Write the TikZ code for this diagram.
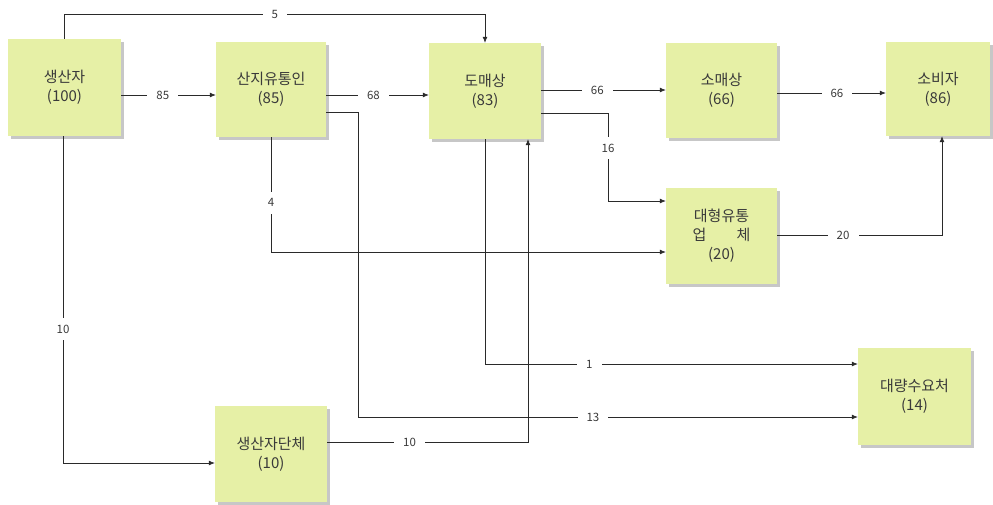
\documentclass[tikz,border=0pt]{standalone}
\usepackage{fontspec}
\setmainfont{Noto Sans CJK KR}
\usetikzlibrary{arrows.meta,shadows}
\definecolor{boxfill}{HTML}{E6F0A6}
\definecolor{txt}{HTML}{3A3A3A}
\definecolor{ln}{HTML}{2A2A2A}
\tikzset{
  flowbox/.style={fill=boxfill, draw=none, align=center, text=txt,
    font=\fontsize{15}{19}\selectfont, inner sep=0pt,
    drop shadow={shadow xshift=2.5pt, shadow yshift=-2.5pt, fill=black!40, opacity=0.55}},
  conn/.style={draw=ln, line width=0.7pt, -{Latex[length=6pt,width=5pt]}},
  lbl/.style={fill=white, text=txt, font=\fontsize{11.5}{13}\selectfont, inner xsep=9pt, inner ysep=2pt},
  vlbl/.style={fill=white, text=txt, font=\fontsize{11.5}{13}\selectfont, inner xsep=2pt, inner ysep=7pt}
}
\begin{document}
\begin{tikzpicture}[x=1pt,y=-1pt]
\useasboundingbox (0,0) rectangle (993,504);
% boxes
\node[flowbox, minimum width=113pt, minimum height=97pt] (prod)   at (64.5,87.5) {생산자\\(100)};
\node[flowbox, minimum width=110pt, minimum height=95pt] (sanji)  at (271,89.5)  {산지유통인\\(85)};
\node[flowbox, minimum width=112pt, minimum height=96pt] (whole)  at (485,91)    {도매상\\(83)};
\node[flowbox, minimum width=111pt, minimum height=95pt] (retail) at (721.5,90.5) {소매상\\(66)};
\node[flowbox, minimum width=104pt, minimum height=94pt] (cons)   at (938,89)    {소비자\\(86)};
\node[flowbox, minimum width=111pt, minimum height=96pt] (large)  at (721.5,236) {대형유통\\업\hspace{2em}체\\(20)};
\node[flowbox, minimum width=113pt, minimum height=97pt] (bulk)   at (914.5,396.5) {대량수요처\\(14)};
\node[flowbox, minimum width=112pt, minimum height=96pt] (group)  at (271,454)   {생산자단체\\(10)};
% bend points
\coordinate (c5a) at (64.5,14);
\coordinate (c5b) at (485,14);
\coordinate (c16a) at (608,113);
\coordinate (c16b) at (608,201);
\coordinate (c20) at (942,235);
\coordinate (c4) at (271,252);
\coordinate (c13a) at (358,112);
\coordinate (c13b) at (358,417);
\coordinate (c1) at (485,364);
\coordinate (c10a) at (63,463);
\coordinate (c10b) at (528,442);
% connectors
\draw[conn] (prod.north) -- (c5a) -- node[lbl, pos=0.5]{5} (c5b) -- (whole.north);
\draw[conn] (prod.east |- 0,95) -- node[lbl, pos=0.44]{85} (sanji.west |- 0,95);
\draw[conn] (sanji.east |- 0,95) -- node[lbl, pos=0.46]{68} (whole.west |- 0,95);
\draw[conn] (whole.east |- 0,90) -- node[lbl, pos=0.45]{66} (retail.west |- 0,90);
\draw[conn] (retail.east |- 0,93) -- node[lbl, pos=0.55]{66} (cons.west |- 0,93);
\draw[conn] (whole.east |- c16a) -- (c16a) -- node[vlbl, pos=0.4]{16} (c16b) -- (large.west |- c16b);
\draw[conn] (large.east |- c20) -- node[lbl, pos=0.4]{20} (c20) -- (cons.south -| c20);
\draw[conn] (sanji.south) -- node[vlbl, pos=0.57]{4} (c4) -- (large.west |- c4);
\draw[conn] (sanji.east |- c13a) -- (c13a) -- (c13b) -- node[lbl, pos=0.47]{13} (bulk.west |- c13b);
\draw[conn] (whole.south) -- (c1) -- node[lbl, pos=0.28]{1} (bulk.west |- c1);
\draw[conn] (prod.south -| c10a) -- node[vlbl, pos=0.59]{10} (c10a) -- (group.west |- c10a);
\draw[conn] (group.east |- c10b) -- node[lbl, pos=0.41]{10} (c10b) -- (whole.south -| c10b);
\end{tikzpicture}
\end{document}
